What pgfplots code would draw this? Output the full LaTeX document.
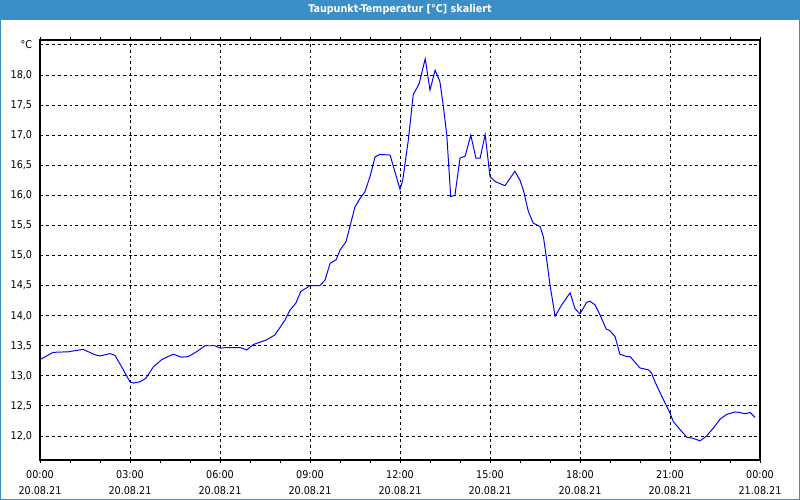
\documentclass[border=0pt]{standalone}
\usepackage{fontspec}
\setmainfont{DejaVu Sans Condensed}
\usepackage{pgfplots}
\pgfplotsset{compat=1.18}
\definecolor{titleblue}{RGB}{60,143,198}
\definecolor{curve}{RGB}{0,0,255}

\begin{document}
\begin{tikzpicture}
% window: 800 x 500 px, 1 px = 0.025 cm
\useasboundingbox (0,0) rectangle (20cm,12.5cm);
\fill[white] (0,0) rectangle (20cm,12.5cm);
\fill[titleblue] (0,12cm) rectangle (20cm,12.5cm);
\draw[titleblue, line width=0.05cm] (0,0) rectangle (20cm,12.5cm);
\node[white, font=\fontsize{7.6}{9}\selectfont\bfseries] at (10cm,12.25cm)
  {Taupunkt-Temperatur [°C] skaliert};

\begin{axis}[
    at={(1cm,1cm)}, anchor=south west,
    scale only axis,
    width=18cm, height=10.5cm,
    xmin=0, xmax=24,
    ymin=11.601, ymax=18.582,
    axis line style={black, line width=1.2pt},
    xtick={0,3,...,24},
    xticklabels={{00:00\\20.08.21},{03:00\\20.08.21},{06:00\\20.08.21},
                 {09:00\\20.08.21},{12:00\\20.08.21},{15:00\\20.08.21},
                 {18:00\\20.08.21},{21:00\\20.08.21},{00:00\\21.08.21}},
    minor x tick num=2,
    ytick={12,12.5,...,18.5},
    yticklabels={{12,0},{12,5},{13,0},{13,5},{14,0},{14,5},{15,0},{15,5},
                 {16,0},{16,5},{17,0},{17,5},{18,0},{°C}},
    tick align=outside,
    major tick length=2.1pt,
    minor tick length=2.1pt,
    ytick style={draw=none},
    xtick style={black, line width=0.7pt},
    xticklabel style={align=center, font=\fontsize{7.6}{11.4}\selectfont, yshift=-2pt},
    yticklabel style={font=\fontsize{7.6}{9}\selectfont},
    grid=major,
    major grid style={black, line width=0.7pt, dash pattern=on 2.1pt off 2.1pt},
]
\addplot[curve, line width=0.7pt] coordinates {
(0.00,13.27) (0.44,13.39) (0.94,13.40) (1.44,13.44) (1.83,13.35) (2.00,13.33)
(2.33,13.37) (2.50,13.34) (2.72,13.15) (3.00,12.90) (3.11,12.88) (3.33,12.90)
(3.53,12.96) (3.78,13.15) (4.06,13.27) (4.44,13.36) (4.72,13.31) (4.94,13.32)
(5.22,13.40) (5.50,13.50) (5.83,13.50) (6.00,13.46) (6.22,13.47) (6.67,13.47)
(6.89,13.43) (7.11,13.52) (7.56,13.60) (7.83,13.68) (8.17,13.93) (8.33,14.09)
(8.53,14.21) (8.69,14.40) (9.00,14.50) (9.33,14.50) (9.50,14.59) (9.67,14.87)
(9.87,14.93) (10.00,15.09) (10.20,15.23) (10.33,15.48) (10.50,15.81) (10.67,15.95)
(10.83,16.06) (11.00,16.31) (11.17,16.64) (11.33,16.68) (11.67,16.67) (12.00,16.10)
(12.09,16.25) (12.28,16.93) (12.44,17.67) (12.64,17.86) (12.84,18.27) (13.00,17.75)
(13.17,18.08) (13.33,17.89) (13.44,17.50) (13.56,17.00) (13.69,15.98) (13.83,16.00)
(14.00,16.62) (14.17,16.65) (14.36,17.00) (14.53,16.62) (14.67,16.62) (14.84,17.01)
(15.00,16.31) (15.17,16.23) (15.50,16.16) (15.83,16.40) (16.00,16.25) (16.11,16.09)
(16.28,15.73) (16.44,15.54) (16.67,15.48) (16.78,15.31) (16.89,14.93) (17.00,14.51)
(17.17,13.99) (17.39,14.18) (17.67,14.38) (17.83,14.12) (18.00,14.03) (18.22,14.22)
(18.33,14.24) (18.50,14.18) (18.67,14.01) (18.87,13.78) (19.00,13.75) (19.17,13.65)
(19.33,13.36) (19.56,13.32) (19.67,13.32) (20.00,13.13) (20.28,13.10) (20.39,13.04)
(20.50,12.90) (20.61,12.78) (21.00,12.38) (21.11,12.24) (21.33,12.11) (21.56,11.98)
(21.78,11.96) (22.00,11.92) (22.22,12.00) (22.44,12.13) (22.67,12.28) (22.89,12.36)
(23.17,12.40) (23.33,12.39) (23.50,12.37) (23.67,12.39) (23.83,12.31)
};
\end{axis}
\end{tikzpicture}
\end{document}
